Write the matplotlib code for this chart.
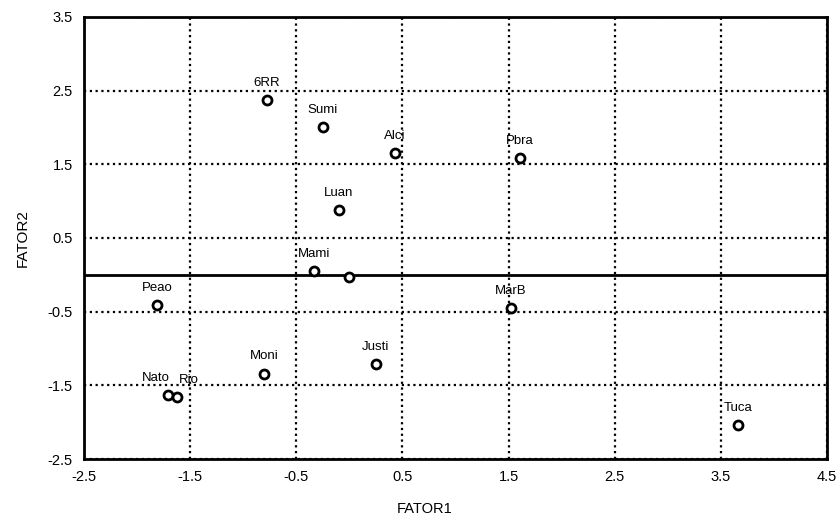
import matplotlib
matplotlib.use("Agg")
import matplotlib.pyplot as plt

plt.rcParams['font.family'] = ['Liberation Sans', 'DejaVu Sans']

labels = ["6RR", "Sumi", "Alci", "Pbra", "Luan", "Mami", "", "Peao", "MarB",
          "Justi", "Moni", "Nato", "Rio", "Tuca"]
fator1 = [-0.78, -0.25, 0.43, 1.61, -0.10, -0.33, 0.00, -1.81, 1.52,
          0.25, -0.80, -1.71, -1.62, 3.66]
fator2 = [2.37, 2.01, 1.65, 1.59, 0.88, 0.05, -0.03, -0.41, -0.45,
          -1.21, -1.34, -1.63, -1.66, -2.04]
ticks_x = [-2.5, -1.5, -0.5, 0.5, 1.5, 2.5, 3.5, 4.5]
ticks_y = [-2.5, -1.5, -0.5, 0.5, 1.5, 2.5, 3.5]

fig = plt.figure(figsize=(8.38, 5.21), dpi=100)
ax = fig.add_axes([0.1002, 0.119, 0.8867, 0.8484])

ax.set_xlim(-2.5, 4.5)
ax.set_ylim(-2.5, 3.5)
ax.set_xticks(ticks_x)
ax.set_yticks(ticks_y)
ax.set_xticklabels([f"{t:g}" for t in ticks_x])
ax.set_yticklabels([f"{t:g}" for t in ticks_y])
ax.tick_params(length=0, labelsize=10.5, pad=8)
ax.grid(True, color='black', linestyle=(0, (1, 1.6)), linewidth=1.6)
ax.set_axisbelow(True)
for s in ax.spines.values():
    s.set_linewidth(2.0)

ax.axhline(0, color='black', linewidth=2.0, zorder=2)

ax.scatter(fator1, fator2, s=42, facecolors='white', edgecolors='black',
           linewidths=2.0, zorder=3)
offsets = {"Nato": (-9, 8), "Rio": (8, 8)}
for lab, x, y in zip(labels, fator1, fator2):
    if lab:
        ax.annotate(lab, (x, y), xytext=offsets.get(lab, (0, 8)),
                    textcoords='offset points',
                    ha='center', va='bottom', fontsize=9.5, zorder=4)

ax.set_xlabel("FATOR1", fontsize=10.5)
ax.set_ylabel("FATOR2", fontsize=11)
ax.xaxis.set_label_coords(0.459, -0.098)
ax.yaxis.set_label_coords(-0.073, 0.5)

fig.savefig("out.png", dpi=100, facecolor='white')
